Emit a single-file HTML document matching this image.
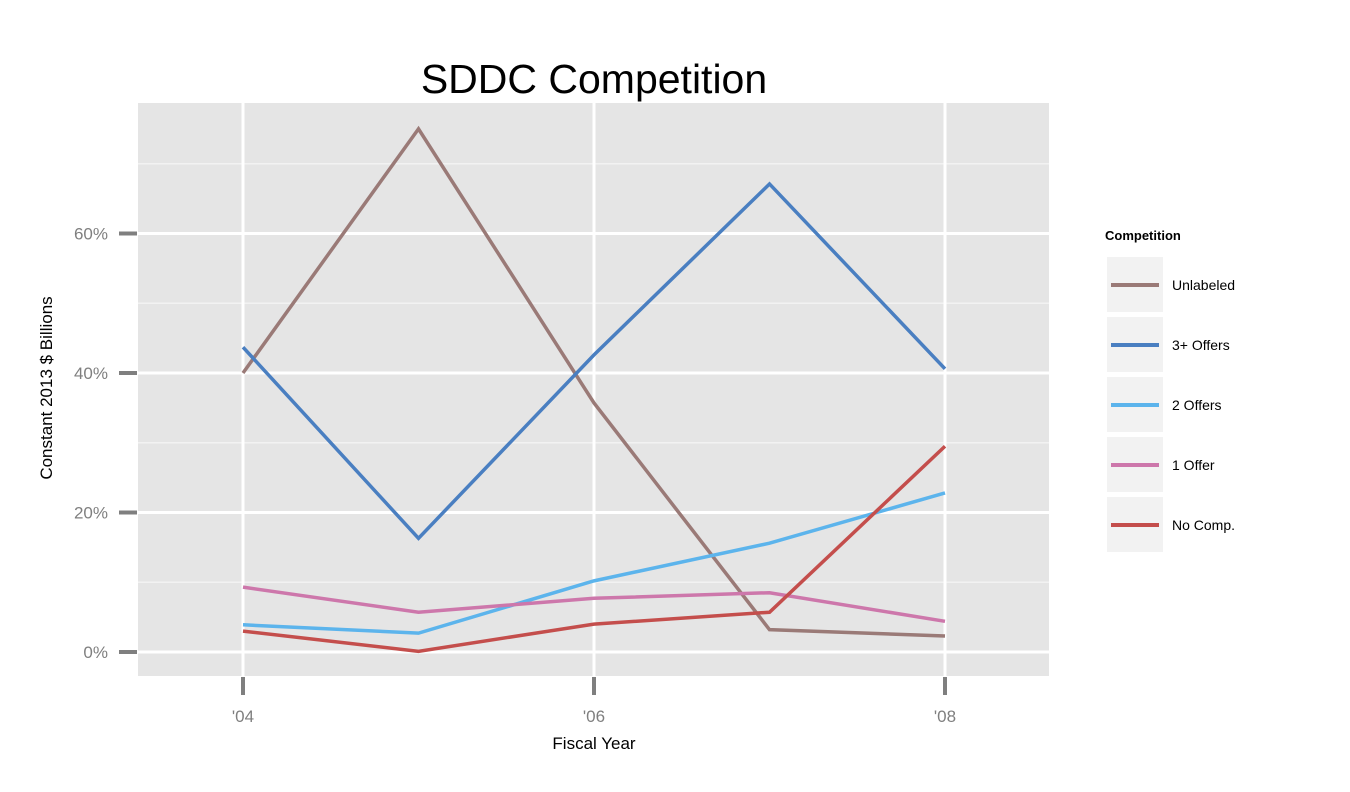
<!DOCTYPE html>
<html><head><meta charset="utf-8"><style>
body{margin:0;background:#fff;}
svg text{font-family:"Liberation Sans",Arial,sans-serif;}
</style></head><body>
<svg id="chart" width="1350" height="787" xmlns="http://www.w3.org/2000/svg">
<text x="594" y="93" font-size="41" text-anchor="middle" fill="#000">SDDC Competition</text>
<rect x="138" y="103" width="911" height="573" fill="#e5e5e5"/>
<g id="grid"></g><g id="axes"></g><g id="series"></g>
<text transform="translate(52,388) rotate(-90)" font-size="17" text-anchor="middle" fill="#000">Constant 2013 $ Billions</text>
<text x="594" y="749" font-size="17" text-anchor="middle" fill="#000">Fiscal Year</text>
<g id="legend">
<text x="1105" y="240" font-size="13" font-weight="bold" fill="#000">Competition</text>
</g>
</svg>
<script>
const years=[2004,2005,2006,2007,2008];
const seriesNames=["Unlabeled","3+ Offers","2 Offers","1 Offer","No Comp."];
const unlabeled=[40.0,75.0,35.7,3.2,2.3];
const offers3=[43.7,16.3,42.6,67.1,40.6];
const offers2=[3.9,2.7,10.2,15.6,22.8];
const offer1=[9.3,5.7,7.7,8.5,4.4];
const noComp=[3.0,0.1,4.0,5.7,29.5];
const yTicks=[0,20,40,60];
const yMinor=[10,30,50,70];
const xTicks=[2004,2006,2008];
const xTickLabels=["'04","'06","'08"];
const colors=["#9a7a77","#4a7fc1","#5cb4ec","#cd77ab","#c44e4c"];
const allSeries=[unlabeled,offers3,offers2,offer1,noComp];
const NS="http://www.w3.org/2000/svg";
const X=v=>243+(v-2004)*175.5;
const Y=v=>652-v*6.975;
function mk(tag,attrs,parent){const e=document.createElementNS(NS,tag);for(const k in attrs)e.setAttribute(k,attrs[k]);document.getElementById(parent).appendChild(e);return e;}
yMinor.forEach(v=>{const l=mk('line',{x1:138,x2:1049,y1:Y(v),y2:Y(v),stroke:'#f2f2f2','stroke-width':1.5},'grid');

});
yTicks.forEach(v=>{const l=mk('line',{x1:138,x2:1049,y1:Y(v),y2:Y(v),stroke:'#fff','stroke-width':3},'grid');


const t=mk('line',{x1:119,x2:137,y1:Y(v),y2:Y(v),stroke:'#7f7f7f','stroke-width':4},'axes');


const tx=mk('text',{x:108,y:Y(v)+6,'font-size':17,'text-anchor':'end',fill:'#7f7f7f'},'axes');tx.textContent=v+'%';

});
xTicks.forEach((v,i)=>{const l=mk('line',{x1:X(v),x2:X(v),y1:103,y2:676,stroke:'#fff','stroke-width':3},'grid');


const t=mk('line',{x1:X(v),x2:X(v),y1:677,y2:695,stroke:'#7f7f7f','stroke-width':4},'axes');


const tx=mk('text',{x:X(v),y:722,'font-size':17,'text-anchor':'middle',fill:'#7f7f7f'},'axes');tx.textContent=xTickLabels[i];

});
allSeries.forEach((s,i)=>{const p=mk('polyline',{points:s.map((v,j)=>X(years[j])+','+Y(v)).join(' '),fill:'none',stroke:colors[i],'stroke-width':3.5},'series');


const yy=257+i*60;
const r=mk('rect',{x:1107,y:yy,width:56,height:55,fill:'#f2f2f2'},'legend');


const l=mk('line',{x1:1111,x2:1159,y1:yy+28,y2:yy+28,stroke:colors[i],'stroke-width':4},'legend');


const t=mk('text',{x:1172,y:yy+33,'font-size':14,fill:'#000'},'legend');t.textContent=seriesNames[i];

});
</script>
</body></html>
